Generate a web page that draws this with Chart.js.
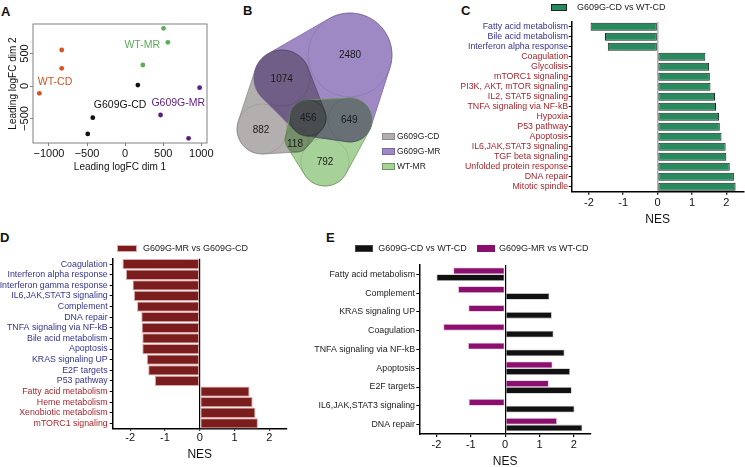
<!DOCTYPE html>
<html>
<head>
<meta charset="utf-8">
<script src="https://cdn.jsdelivr.net/npm/chart.js@4.4.1/dist/chart.umd.min.js"></script>
<style>
  body { margin: 0; width: 745px; height: 467px; overflow: hidden; background: #fff; position: relative;
         font-family: 'Liberation Sans', Arial, Helvetica, sans-serif; }
  .p { position: absolute; }
  .tag { position: absolute; font-weight: bold; font-size: 13px; line-height: 13px; color: #111; }
  .lgbox { position: absolute; box-sizing: border-box; border: 1px solid; }
  .lgtxt { position: absolute; white-space: nowrap; color: #222; }
</style>
</head>
<body>
<div class="tag" style="left:1px;top:5px">A</div>
<div class="tag" style="left:243px;top:4px">B</div>
<div class="tag" style="left:461px;top:4px">C</div>
<div class="tag" style="left:0px;top:231px">D</div>
<div class="tag" style="left:326px;top:231px">E</div>

<div class="p" style="left:0;top:0"><canvas id="cA" width="230" height="180"></canvas></div>
<div class="p" style="left:225px;top:0"><canvas id="cB" width="230" height="230"></canvas></div>
<div class="p" style="left:0;top:230px"><canvas id="cD" width="290" height="237"></canvas></div>
<div class="p" style="left:270px;top:230px"><canvas id="cE" width="330" height="240"></canvas></div>
<div class="p" style="left:455px;top:0"><canvas id="cC" width="290" height="230"></canvas></div>

<script>
// ---- A: MDS plot (leading logFC dims) ----
const mdsGroups = ['WT-CD', 'WT-MR', 'G609G-CD', 'G609G-MR'];
const mdsWtCd = [[-833, 554], [-833, 272], [-1127, -113]];
const mdsWtMr = [[504, 887], [561, 672], [232, 323]];
const mdsG609gCd = [[167, 15], [-425, -487], [-491, -738]];
const mdsG609gMr = [[978, -26], [465, -446], [833, -805]];
const mdsTicksX = [-1000, -500, 0, 500, 1000];
const mdsTicksY = [-500, 0, 500];

// ---- B: Venn counts ----
const vennSets = ['G609G-CD', 'G609G-MR', 'WT-MR'];
const vennCounts = [882, 1074, 2480, 456, 118, 649, 792];

// ---- C: G609G-CD vs WT-CD ----
const pathwaysC = ['Fatty acid metabolism', 'Bile acid metabolism', 'Interferon alpha response',
  'Coagulation', 'Glycolisis', 'mTORC1 signaling', 'PI3K, AKT, mTOR signaling',
  'IL2, STAT5 signaling', 'TNFA signaling via NF-kB', 'Hypoxia', 'P53 pathway', 'Apoptosis',
  'IL6,JAK,STAT3 signaling', 'TGF beta signaling', 'Unfolded protein response', 'DNA repair',
  'Mitotic spindle'];
const nesC = [-1.95, -1.53, -1.45, 1.39, 1.50, 1.52, 1.54, 1.67, 1.70, 1.79, 1.81, 1.86,
  1.98, 2.00, 2.10, 2.22, 2.27];

// ---- D: G609G-MR vs G609G-CD ----
const pathwaysD = ['Coagulation', 'Interferon alpha response', 'Interferon gamma response',
  'IL6,JAK,STAT3 signaling', 'Complement', 'DNA repair', 'TNFA signaling via NF-kB',
  'Bile acid metabolism', 'Apoptosis', 'KRAS signaling UP', 'E2F targets', 'P53 pathway',
  'Fatty acid metabolism', 'Heme metabolism', 'Xenobiotic metabolism', 'mTORC1 signaling'];
const nesD = [-2.22, -2.12, -1.93, -1.89, -1.80, -1.68, -1.67, -1.65, -1.65, -1.52, -1.48,
  -1.29, 1.43, 1.52, 1.60, 1.67];

// ---- E: both genotypes vs WT-CD ----
const pathwaysE = ['Fatty acid metabolism', 'Complement', 'KRAS signaling UP', 'Coagulation',
  'TNFA signaling via NF-kB', 'Apoptosis', 'E2F targets', 'IL6,JAK,STAT3 signaling', 'DNA repair'];
const nesEcd = [-2.00, 1.29, 1.36, 1.41, 1.73, 1.89, 1.94, 2.02, 2.25];
const nesEmr = [-1.51, -1.37, -1.07, -1.80, -1.08, 1.38, 1.27, -1.06, 1.51];
const nesTicks = [-2, -1, 0, 1, 2];

const FONT = "'Liberation Sans', Arial, Helvetica, sans-serif";
Chart.defaults.font.family = FONT;
Chart.defaults.color = '#111';
Chart.defaults.animation = false;
Chart.defaults.responsive = false;
Chart.defaults.plugins.legend.display = false;
Chart.defaults.plugins.tooltip.enabled = false;

const BLUE = '#34348f';
const RED = '#a8262d';
const clear = 'rgba(0,0,0,0)';
const fixTicks = arr => s => { s.ticks = arr.map(v => ({ value: v })); };

// html legends
function legendItem(x, y, w, h, fill, stroke, text, tx, fs) {
  const b = document.createElement('div');
  b.className = 'lgbox';
  Object.assign(b.style, { left: x + 'px', top: y + 'px', width: w + 'px', height: h + 'px',
    background: fill, borderColor: stroke });
  document.body.appendChild(b);
  const t = document.createElement('div');
  t.className = 'lgtxt';
  t.textContent = text;
  Object.assign(t.style, { left: tx + 'px', top: (y + h / 2 - fs * 0.49) + 'px',
    fontSize: fs + 'px', lineHeight: fs + 'px' });
  document.body.appendChild(t);
}

// ---------------- A ----------------
const mdsColors = ['#d4531f', '#5aae55', '#111111', '#5b1d82'];
const mdsSeries = [mdsWtCd, mdsWtMr, mdsG609gCd, mdsG609gMr];
// where each group name sits, in data units
const mdsLabelAt = [[-921, 62], [224, 631], [-66, -292], [697, -262]];
const minus = v => (v < 0 ? '\u2212' + Math.abs(v) : String(v));

const boxPlugin = {
  id: 'box',
  afterDraw(chart) {
    const { ctx, chartArea: a, scales: { x, y } } = chart;
    ctx.save();
    ctx.strokeStyle = '#808080';
    ctx.lineWidth = 1;
    ctx.strokeRect(a.left, a.top, a.right - a.left, a.bottom - a.top);
    // R style rotated y labels
    ctx.fillStyle = '#111';
    ctx.font = '11px ' + FONT;
    ctx.textAlign = 'center';
    ctx.textBaseline = 'middle';
    y.ticks.forEach(t => {
      ctx.save();
      ctx.translate(a.left - 8, y.getPixelForValue(t.value));
      ctx.rotate(-Math.PI / 2);
      ctx.fillText(minus(t.value), 0, 0);
      ctx.restore();
    });
    ctx.font = '10.5px ' + FONT;
    mdsGroups.forEach((g, i) => {
      ctx.fillStyle = mdsColors[i];
      ctx.fillText(g, x.getPixelForValue(mdsLabelAt[i][0]), y.getPixelForValue(mdsLabelAt[i][1]));
    });
    ctx.restore();
  }
};

new Chart(document.getElementById('cA'), {
  type: 'scatter',
  data: {
    datasets: mdsSeries.map((s, i) => ({
      label: mdsGroups[i],
      data: s.map(p => ({ x: p[0], y: p[1] })),
      backgroundColor: mdsColors[i],
      borderWidth: 0,
      pointRadius: 2.4
    }))
  },
  options: {
    layout: { padding: { top: 24, right: 23, left: 0, bottom: 0 } },
    scales: {
      x: {
        type: 'linear', min: -1210, max: 1075,
        afterBuildTicks: fixTicks(mdsTicksX),
        afterFit: s => { s.height = 37; },
        ticks: { color: '#111', font: { size: 11 }, padding: 1.5,
          maxRotation: 0, autoSkip: false, callback: v => minus(v) },
        grid: { drawOnChartArea: false, tickLength: 3, tickColor: '#808080' },
        border: { display: false },
        title: { display: true, text: 'Leading logFC dim 1', font: { size: 10 }, color: '#111',
          padding: { top: 0, bottom: 7 } }
      },
      y: {
        type: 'linear', min: -877, max: 954,
        afterBuildTicks: fixTicks(mdsTicksY),
        afterFit: s => { s.width = 33; },
        ticks: { color: clear, font: { size: 11 } },
        grid: { drawOnChartArea: false, tickLength: 3, tickColor: '#808080' },
        border: { display: false },
        title: { display: true, text: 'Leading logFC dim 2', font: { size: 10 }, color: '#111',
          padding: { top: 7, bottom: 0 } }
      }
    }
  },
  plugins: [boxPlugin]
});

// ---------------- B ----------------
// circle centres / radii in the panel's own units
const vennCircles = {
  c2480: [125, 55, 42], c1074: [57, 78, 28], c882: [37, 129, 25], c456: [83, 118, 18],
  c649: [125, 120, 22], c792: [100, 162, 24], c118: [72, 140, 12]
};
const vennShapes = [
  ['c1074', 'c882', 'c456', 'c118'],
  ['c1074', 'c2480', 'c456', 'c649'],
  ['c456', 'c649', 'c792', 'c118']
];
const vennFill = ['#b3afae', '#9f89c4', '#a6d198'];
const vennLine = ['#8e8a8a', '#7a66a0', '#6e9a60'];
const vennLabelAt = [[36, 130], [56.7, 79.3], [125, 55], [83.3, 118.3], [70, 144], [124.3, 120.7], [100, 162.3]];

function hull(pts) {
  pts.sort((a, b) => a[0] - b[0] || a[1] - b[1]);
  const cross = (o, a, b) => (a[0] - o[0]) * (b[1] - o[1]) - (a[1] - o[1]) * (b[0] - o[0]);
  const lo = [], up = [];
  for (const p of pts) {
    while (lo.length >= 2 && cross(lo[lo.length - 2], lo[lo.length - 1], p) <= 0) lo.pop();
    lo.push(p);
  }
  for (let i = pts.length - 1; i >= 0; i--) {
    const p = pts[i];
    while (up.length >= 2 && cross(up[up.length - 2], up[up.length - 1], p) <= 0) up.pop();
    up.push(p);
  }
  up.pop(); lo.pop();
  return lo.concat(up);
}

const vennPlugin = {
  id: 'venn',
  beforeDatasetsDraw(chart) {
    const { ctx, scales: { x, y } } = chart;
    const toPx = c => ({
      cx: x.getPixelForValue(c[0]), cy: y.getPixelForValue(c[1]),
      r: Math.abs(x.getPixelForValue(c[2]) - x.getPixelForValue(0))
    });
    ctx.save();
    vennShapes.forEach((shape, i) => {
      const pts = [];
      shape.forEach(n => {
        const c = toPx(vennCircles[n]);
        for (let k = 0; k < 90; k++) {
          const a = k / 90 * Math.PI * 2;
          pts.push([c.cx + c.r * Math.cos(a), c.cy + c.r * Math.sin(a)]);
        }
      });
      const h = hull(pts);
      ctx.beginPath();
      h.forEach((p, k) => (k ? ctx.lineTo(p[0], p[1]) : ctx.moveTo(p[0], p[1])));
      ctx.closePath();
      ctx.globalCompositeOperation = 'multiply';
      ctx.fillStyle = vennFill[i];
      ctx.fill();
      ctx.globalCompositeOperation = 'source-over';
      ctx.strokeStyle = vennLine[i];
      ctx.lineWidth = 0.8;
      ctx.stroke();
    });
    Object.keys(vennCircles).forEach(n => {
      const c = toPx(vennCircles[n]);
      ctx.beginPath();
      ctx.arc(c.cx, c.cy, c.r, 0, Math.PI * 2);
      ctx.strokeStyle = n === 'c456' ? 'rgba(20,50,40,0.55)' : 'rgba(0,0,0,0.13)';
      ctx.lineWidth = n === 'c456' ? 0.9 : 0.7;
      ctx.stroke();
    });
    ctx.restore();
  },
  afterDatasetsDraw(chart) {
    const { ctx } = chart;
    ctx.save();
    ctx.fillStyle = '#1a1a1a';
    ctx.font = '10px ' + FONT;
    ctx.textAlign = 'center';
    ctx.textBaseline = 'middle';
    chart.getDatasetMeta(0).data.forEach((pt, i) => ctx.fillText(String(vennCounts[i]), pt.x, pt.y));
    ctx.restore();
  }
};

new Chart(document.getElementById('cB'), {
  type: 'scatter',
  data: {
    datasets: [{
      data: vennCounts.map((n, i) => ({ x: vennLabelAt[i][0], y: vennLabelAt[i][1] })),
      pointRadius: 0
    }]
  },
  options: {
    layout: { padding: 0 },
    scales: {
      x: { type: 'linear', min: 0, max: 230, display: false },
      y: { type: 'linear', min: 0, max: 230, reverse: true, display: false }
    }
  },
  plugins: [vennPlugin]
});

vennSets.forEach((s, i) => {
  legendItem(382, 133 + i * 15, 13, 6.5, vennFill[i], vennLine[i], s, 397, 8.5);
});

// ---------------- bar panels ----------------
function nesAxis(o) {
  return {
    type: 'linear', min: -2.5, max: 2.5,
    afterBuildTicks: fixTicks(nesTicks),
    afterFit: s => { s.height = o.h; },
    ticks: { font: { size: 11 }, color: '#111', padding: o.tp, maxRotation: 0, autoSkip: false },
    grid: { color: c => (c.tick && c.tick.value === 0 ? o.zero : clear), lineWidth: o.zw,
      tickLength: o.tl, tickColor: '#000', tickWidth: 1.2 },
    border: { color: '#000', width: 1.5 },
    title: { display: true, text: 'NES', font: { size: 12 }, color: '#111', padding: 0 }
  };
}
function pathAxis(o) {
  return {
    afterFit: s => { s.width = o.w; },
    ticks: { font: { size: 8.8 }, color: o.color, padding: o.tp, autoSkip: false },
    grid: { drawOnChartArea: false, offset: false, tickLength: 3, tickColor: '#000', tickWidth: 1 },
    border: { color: '#000', width: 1.5 }
  };
}

// C
new Chart(document.getElementById('cC'), {
  type: 'bar',
  data: {
    labels: pathwaysC,
    datasets: [{ label: 'G609G-CD vs WT-CD', data: nesC, backgroundColor: '#2a8a5f',
      borderColor: '#16281f', borderWidth: 1, borderSkipped: false,
      barPercentage: 0.8, categoryPercentage: 1 }]
  },
  options: {
    indexAxis: 'y',
    layout: { padding: { top: 21.7, right: 1.5, left: 0, bottom: 2.8 } },
    scales: {
      x: nesAxis({ h: 35.5, tp: 1.4, tl: 3, zero: '#b5b5b5', zw: 1.5 }),
      y: pathAxis({ w: 116.7, tp: 0.5, color: c => (nesC[c.index] < 0 ? BLUE : RED) })
    }
  }
});
legendItem(551, 4, 16, 7, '#2a8a5f', '#16281f', 'G609G-CD vs WT-CD', 577, 9);

// D
new Chart(document.getElementById('cD'), {
  type: 'bar',
  data: {
    labels: pathwaysD,
    datasets: [{ label: 'G609G-MR vs G609G-CD', data: nesD, backgroundColor: '#7b1d1d',
      borderColor: '#dcaaaa', borderWidth: 1, borderSkipped: false,
      barPercentage: 0.97, categoryPercentage: 1 }]
  },
  options: {
    indexAxis: 'y',
    layout: { padding: { top: 28.8, right: 3.2, left: 0, bottom: 4.8 } },
    scales: {
      x: nesAxis({ h: 33.5, tp: 1, tl: 2, zero: '#000', zw: 1.2 }),
      y: pathAxis({ w: 112.7, tp: 2, color: c => (nesD[c.index] < 0 ? BLUE : RED) })
    }
  }
});
legendItem(117, 245, 20, 6.5, '#7b1d1d', '#dcaaaa', 'G609G-MR vs G609G-CD', 143, 9);

// E
new Chart(document.getElementById('cE'), {
  type: 'bar',
  data: {
    labels: pathwaysE,
    datasets: [
      { label: 'G609G-MR vs WT-CD', data: nesEmr, backgroundColor: '#8c0f6f', borderColor: '#d9bfd3',
        borderWidth: 0.8, borderSkipped: false, barPercentage: 1, categoryPercentage: 0.72 },
      { label: 'G609G-CD vs WT-CD', data: nesEcd, backgroundColor: '#111111', borderColor: '#bdbdbd',
        borderWidth: 0.8, borderSkipped: false, barPercentage: 1, categoryPercentage: 0.72 }
    ]
  },
  options: {
    indexAxis: 'y',
    layout: { padding: { top: 34.9, right: 9, left: 0, bottom: 1.1 } },
    scales: {
      x: nesAxis({ h: 34.9, tp: 1.4, tl: 3, zero: '#000', zw: 1.2 }),
      y: pathAxis({ w: 149.3, tp: 1.3, color: '#222' })
    }
  }
});
legendItem(355, 245, 18, 6.5, '#111111', '#444', 'G609G-CD vs WT-CD', 378.3, 9);
legendItem(477, 245, 18, 6.5, '#8c0f6f', '#8c0f6f', 'G609G-MR vs WT-CD', 499, 9);
</script>
</body>
</html>
